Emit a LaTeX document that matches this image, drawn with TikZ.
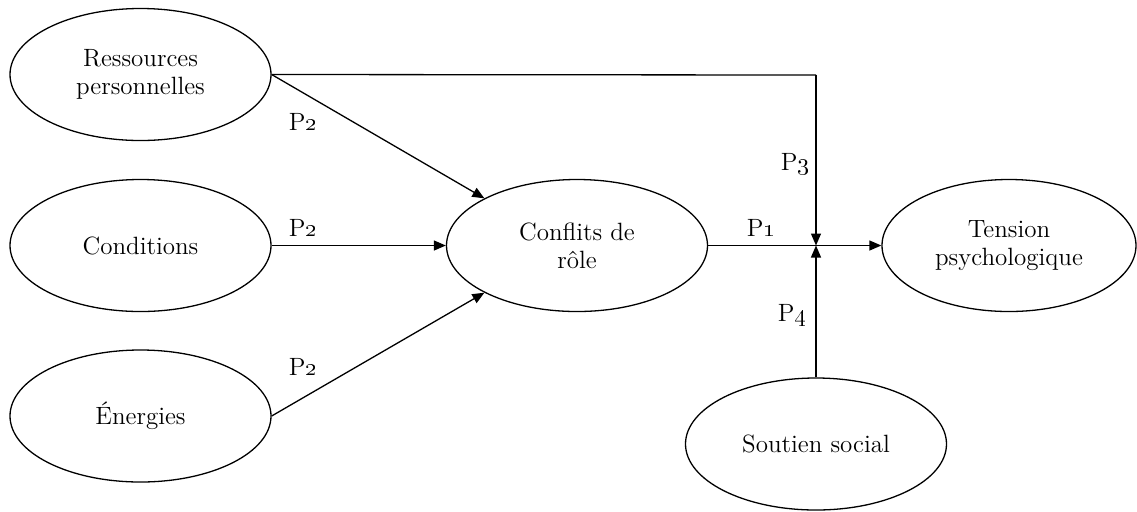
\documentclass[tikz,border=0pt]{standalone}
\usetikzlibrary{arrows.meta,shapes.geometric}
\begin{document}
\begin{tikzpicture}[x=0.5pt,y=-0.5pt,
  latent/.style={draw, ellipse, line width=0.65pt, minimum width=130.5pt, minimum height=66pt, inner sep=0pt, align=center, font=\fontsize{12.5}{14}\selectfont},
  conn/.style={line width=0.65pt},
  arr/.style={conn, -{Triangle[length=6pt,width=5pt]}},
  lab/.style={font=\fontsize{12.5}{14}\selectfont, inner sep=0pt}]
\useasboundingbox (0,0) rectangle (1137,511);
\node[latent] (res) at (140.5,74.5) {Ressources\\personnelles};
\node[latent] (cond) at (140.5,245.5) {Conditions};
\node[latent] (ener) at (140.5,416) {Énergies};
\node[latent] (conf) at (577,245.5) {Conflits de\\rôle};
\node[latent, minimum width=127pt] (tens) at (1009,245.5) {Tension\\psychologique};
\node[latent] (sout) at (816,444) {Soutien social};
\coordinate (corner) at (816,75);
\coordinate (J) at (816,245.5);
\draw[conn] (res.east) -- (corner);
\draw[arr] (corner) -- (J);
\draw[arr] (sout.north) -- (J);
\draw[arr] (conf.east) -- (tens.west);
\draw[arr] (res.east) -- (conf.153);
\draw[arr] (cond.east) -- (conf.west);
\draw[arr] (ener.east) -- (conf.207);
\node[lab] (l1) at (303,122) {P\oldstylenums{2}};
\node[lab] (l2) at (303,228) {P\oldstylenums{2}};
\node[lab] (l3) at (303,367) {P\oldstylenums{2}};
\node[lab] (l4) at (761,228) {P\oldstylenums{1}};
\node[lab] (l5) at (795,164) {P\oldstylenums{3}};
\node[lab] (l6) at (792,315) {P\oldstylenums{4}};
\end{tikzpicture}
\end{document}
